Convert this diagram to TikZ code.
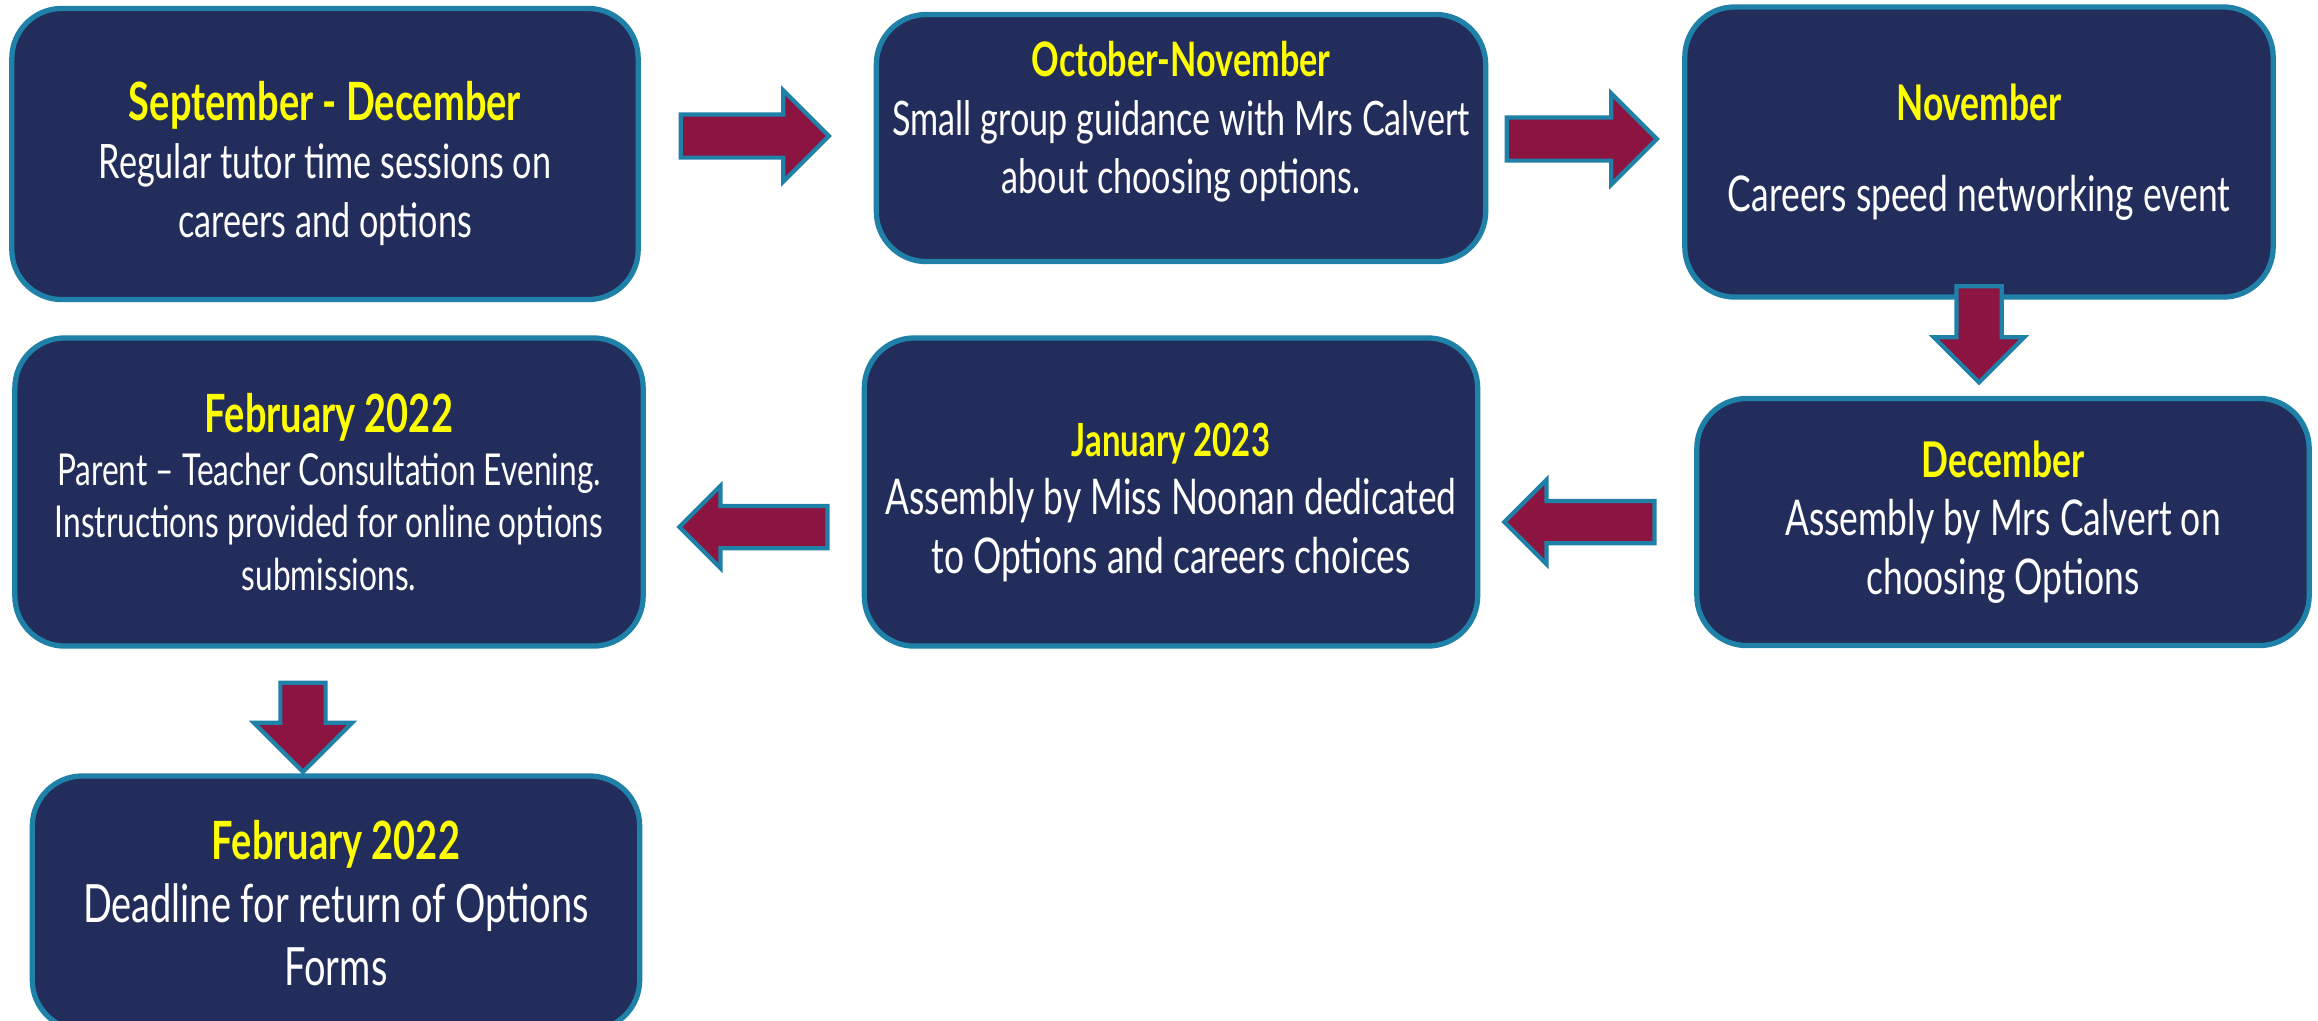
\documentclass[tikz,border=0pt]{standalone}
\usepackage{fontspec}
\setmainfont[FakeStretch=0.72]{Lato}
\usetikzlibrary{shapes.arrows}

\definecolor{stagefill}{HTML}{232D5B}
\definecolor{stageline}{HTML}{1F80A8}
\definecolor{arrowfill}{HTML}{8B1540}
\definecolor{monthyellow}{HTML}{FFFF00}

\newcommand{\monthname}[1]{\textcolor{monthyellow}{\bfseries #1}}

\tikzset{
	stage/.style={draw=stageline, fill=stagefill, line width=1.5pt, rounded corners=0.5cm, text=white, align=center, inner sep=0pt},
	blockarrow/.style={single arrow, draw=stageline, fill=arrowfill, line width=1.2pt, inner xsep=0pt, inner ysep=0.195cm, single arrow head extend=0.24cm}
}

\begin{document}
\begin{tikzpicture}[x=0.01cm, y=-0.01cm]
			\useasboundingbox (0,0) rectangle (2318,1020);
			\node (sepdec) at (325,154) [stage, minimum width=6.26cm, minimum height=2.91cm, font=\fontsize{13.5}{16.7}\selectfont] {\strut\\[-12pt]{\fontsize{15}{18}\selectfont\monthname{September - December}}\\Regular tutor time sessions on\\careers and options};
			\node (octnov) at (1181,138) [stage, minimum width=6.09cm, minimum height=2.47cm, font=\fontsize{13.5}{16.7}\selectfont] {\monthname{October-November}\\Small group guidance with Mrs Calvert\\about choosing options.\\[-10pt]\strut};
			\node (nov) at (1979,152) [stage, minimum width=5.88cm, minimum height=2.90cm, font=\fontsize{14}{16.7}\selectfont] {\monthname{November}\\[9pt]Careers speed networking event};
			\node (dec) at (2003,522) [stage, minimum width=6.12cm, minimum height=2.47cm, font=\fontsize{14}{16.7}\selectfont] {\monthname{December}\\Assembly by Mrs Calvert on\\choosing Options};
			\node (jan) at (1171,492) [stage, minimum width=6.13cm, minimum height=3.08cm, font=\fontsize{14}{16.7}\selectfont] {\strut\\[-13pt]{\fontsize{13}{15}\selectfont\monthname{January 2023}}\\Assembly by Miss Noonan dedicated\\to Options and careers choices};
			\node (feb) at (329,492) [stage, minimum width=6.28cm, minimum height=3.08cm, font=\fontsize{12.5}{15}\selectfont] {{\fontsize{15}{16}\selectfont\monthname{February 2022}}\\Parent -- Teacher Consultation Evening.\\Instructions provided for online options\\submissions.};
			\node (deadline) at (336,903) [stage, minimum width=6.07cm, minimum height=2.54cm, font=\fontsize{15}{17.9}\selectfont] {\monthname{February 2022}\\Deadline for return of Options\\Forms};
			
			\node (a1) at (744,136) [blockarrow, minimum height=1.48cm] {};
			\node (a2) at (1571,139) [blockarrow, minimum height=1.50cm] {};
			\node (a3) at (1979,323) [blockarrow, rotate=-90, minimum height=0.96cm, inner ysep=0.205cm, single arrow head extend=0.225cm] {};
			\node (a4) at (1590,522) [blockarrow, rotate=180, minimum height=1.50cm, inner ysep=0.19cm, single arrow head extend=0.21cm] {};
			\node (a5) at (764,527) [blockarrow, rotate=180, minimum height=1.48cm, inner ysep=0.19cm, single arrow head extend=0.20cm] {};
			\node (a6) at (303,716) [blockarrow, rotate=-90, minimum height=0.89cm, inner ysep=0.205cm, single arrow head extend=0.265cm] {};
		\end{tikzpicture}
\end{document}
